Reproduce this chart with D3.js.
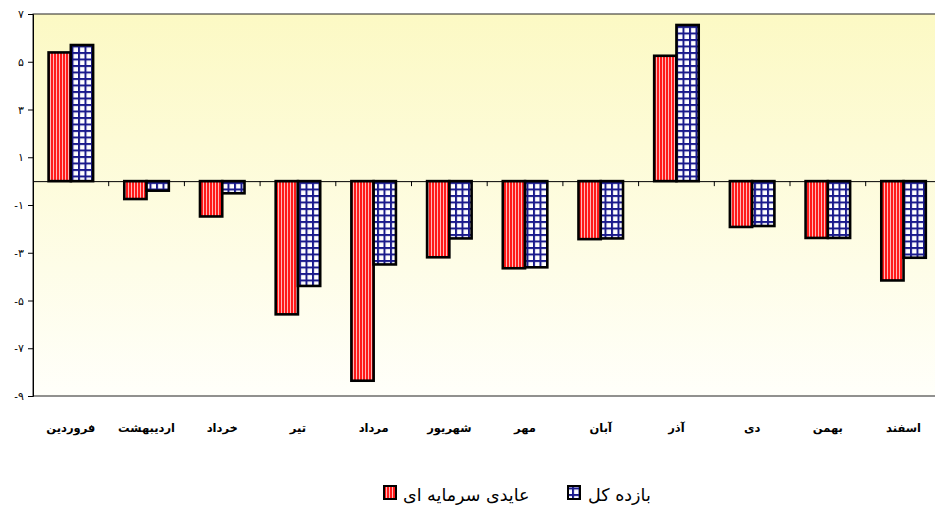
<!DOCTYPE html>
<html><head><meta charset="utf-8">
<script src="https://cdn.jsdelivr.net/npm/d3@7"></script>
<style>
html,body{margin:0;padding:0;background:#fff;}
svg{display:block;font-family:"DejaVu Sans",sans-serif;}
</style></head>
<body>
<svg id="c" width="935" height="511"></svg>
<script>
const categories = ["فروردین","اردیبهشت","خرداد","تیر","مرداد","شهریور","مهر","آبان","آذر","دی","بهمن","اسفند"];
const seriesNames = ["عایدی سرمایه ای","بازده کل"];
const capitalGain = [5.39,-0.75,-1.48,-5.58,-8.36,-3.19,-3.65,-2.43,5.25,-1.92,-2.38,-4.16];
const totalReturn = [5.70,-0.40,-0.51,-4.39,-3.49,-2.40,-3.61,-2.40,6.54,-1.88,-2.38,-3.21];
const yTicks = [-9,-7,-5,-3,-1,1,3,5,7];

(function(){
const svg = d3.select("#c");
const defs = svg.append("defs");

const grad = defs.append("linearGradient").attr("id","bg").attr("x1",0).attr("y1",0).attr("x2",0).attr("y2",1);
grad.append("stop").attr("offset","0%").attr("stop-color","#fcf9c4");
grad.append("stop").attr("offset","100%").attr("stop-color","#fffffa");

const pr = defs.append("pattern").attr("id","pRed").attr("patternUnits","userSpaceOnUse").attr("width",3).attr("height",4);
pr.append("rect").attr("width",3).attr("height",4).attr("fill","#ff1a1a");
pr.append("rect").attr("x",2).attr("width",1).attr("height",4).attr("fill","#ffb8b8");

const pb = defs.append("pattern").attr("id","pBlue").attr("patternUnits","userSpaceOnUse").attr("width",6.5).attr("height",6.5);
pb.append("rect").attr("width",6.5).attr("height",6.5).attr("fill","#ffffff");
pb.append("rect").attr("x",0).attr("y",0).attr("width",6.5).attr("height",2).attr("fill","#1a1a8c");
pb.append("rect").attr("x",0).attr("y",0).attr("width",2).attr("height",6.5).attr("fill","#1a1a8c");

const fills = ["url(#pRed)","url(#pBlue)"];

const pL = 33, pR = 941.4, pT = 14, pB = 396;
const x = d3.scaleBand().domain(categories).range([pL,pR]).padding(0);
const xs = d3.scaleBand().domain(seriesNames).range([0,x.bandwidth()]).paddingInner(0).paddingOuter(0.7);
const y = d3.scaleLinear().domain([-9,7]).range([pB,pT]);

svg.append("rect").attr("x",pL).attr("y",pT).attr("width",pR-pL).attr("height",pB-pT)
  .attr("fill","url(#bg)").attr("stroke","#222").attr("stroke-width",1);

const toFa = s => String(s).replace(/\d/g,d=>"۰۱۲۳۴۵۶۷۸۹"[+d]);

const yAxis = d3.axisLeft(y).tickValues(yTicks).tickSize(5).tickPadding(4)
  .tickFormat(v => (v<0?"-":"") + toFa(Math.abs(v)));
const ya = svg.append("g").attr("transform",`translate(${pL},0)`).call(yAxis);
ya.select(".domain").attr("stroke","#000");
ya.selectAll(".tick line").attr("stroke","#000");
ya.selectAll(".tick text").attr("font-size",11).attr("fill","#000").attr("direction","ltr");

const data = categories.map((c,i)=>({c, vals:[capitalGain[i], totalReturn[i]]}));
const g = svg.append("g");
data.forEach(d=>{
  d.vals.forEach((v,j)=>{
    g.append("rect")
      .attr("x", x(d.c)+xs(seriesNames[j]))
      .attr("y", y(Math.max(0,v)))
      .attr("width", xs.bandwidth())
      .attr("height", Math.abs(y(v)-y(0)))
      .attr("fill", fills[j])
      .attr("stroke","#000").attr("stroke-width",2.6);
  });
});

const xAxis = d3.axisBottom(x).tickSize(0).tickFormat("");
const xa = svg.append("g").attr("transform",`translate(0,${y(0)})`).call(xAxis);
xa.select(".domain").attr("stroke","#000");
svg.append("g").selectAll("line").data(categories.slice(1)).join("line")
  .attr("x1",d=>x(d)).attr("x2",d=>x(d)).attr("y1",y(0)).attr("y2",y(0)+5)
  .attr("stroke","#000");

svg.append("g").selectAll("text").data(categories).join("text")
  .attr("x",d=>x(d)+x.bandwidth()/2).attr("y",432)
  .attr("text-anchor","middle").attr("font-size",11.5).attr("font-weight","bold")
  .attr("fill","#000").text(d=>d);

const legend = [{name:seriesNames[0], fill:fills[0], ix:384, tx:403},
                {name:seriesNames[1], fill:fills[1], ix:568, tx:588}];
const lg = svg.append("g");
legend.forEach(l=>{
  lg.append("rect").attr("x",l.ix).attr("y",486).attr("width",12).attr("height",13)
    .attr("fill",l.fill).attr("stroke","#000").attr("stroke-width",2);
  lg.append("text").attr("x",l.tx).attr("y",501).attr("font-size",17.5).attr("fill","#000")
    .attr("text-anchor","start").text(l.name);
});
})();
</script>
</body></html>
